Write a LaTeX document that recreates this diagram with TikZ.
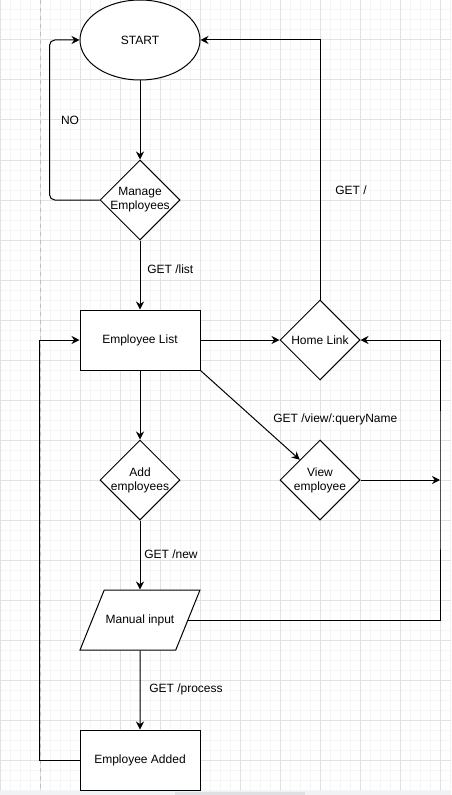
\documentclass[tikz,border=0pt]{standalone}
\usepackage{fontspec}
\setmainfont{Liberation Sans}
\usetikzlibrary{shapes.geometric,arrows.meta}

\definecolor{minorgray}{RGB}{245,245,245}
\definecolor{majorgray}{RGB}{226,226,226}
\definecolor{pagegray}{RGB}{190,190,190}
\definecolor{bandgray}{RGB}{241,242,244}
\definecolor{thumbgray}{RGB}{222,224,228}

\begin{document}
\begin{tikzpicture}[x=0.75pt,y=-0.75pt]
  % Base settings
  \tikzset{
    myline/.style={line width=0.75pt, -{Stealth[length=6pt,width=6pt]}},
    myshape/.style={draw, line width=0.75pt, fill=white, font=\fontsize{9}{10.5}\selectfont, align=center},
    mybox/.style={myshape, rectangle, minimum width=90pt, minimum height=45pt},
    myoval/.style={myshape, ellipse, minimum width=90pt, minimum height=60pt},
    mydiamond/.style={myshape, diamond, minimum width=60pt, minimum height=60pt, inner sep=0pt},
    myinput/.style={myshape, trapezium, trapezium left angle=68, trapezium right angle=112,
      trapezium stretches body, text height=6.5pt, text depth=2pt, inner xsep=0pt,
      inner ysep=18.25pt, minimum width=90pt},
    mylabel/.style={font=\fontsize{9}{10.5}\selectfont, align=center, inner sep=0pt},
    minorgrid/.style={line width=0.75pt, minorgray},
    majorgrid/.style={line width=0.75pt, majorgray}
  }

  % --- Canvas ---
  \useasboundingbox (0,0) rectangle (451,795);
  \fill[white] (0,0) rectangle (451,795);
  \foreach \x in {10,20,...,450} \draw[minorgrid] (\x,0) -- (\x,791);
  \foreach \y in {10,20,...,790} \draw[minorgrid] (0,\y) -- (451,\y);
  \foreach \x in {0,40,...,440} \draw[majorgrid] (\x,0) -- (\x,791);
  \foreach \y in {0,40,...,760} \draw[majorgrid] (0,\y) -- (451,\y);
  \draw[pagegray, line width=0.75pt, dash pattern=on 3pt off 3pt] (40,0) -- (40,791);
  \fill[bandgray] (0,791) rectangle (451,795);
  \fill[thumbgray] (175,792) rectangle (305,795);

  % --- Shapes ---
  \node[myoval] (start) at (140,40) {START};
  \node[mydiamond, label={[mylabel]center:Manage\\Employees}] (manage) at (140,200) {};
  \node[mybox] (list) at (140,340) {Employee List};
  \node[mydiamond, label={[mylabel]center:Home Link}] (home) at (320,340) {};
  \node[mydiamond, label={[mylabel]center:Add\\employees}] (add) at (140,480) {};
  \node[mydiamond, label={[mylabel]center:View\\employee}] (view) at (320,480) {};
  \node[myinput] (input) at (140,620) {Manual input};
  \node[mybox] (added) at (140,760) {Employee Added};
  \coordinate (rail) at (440,480);

  % --- Connectors ---
  \draw[myline] (start) -- (manage);
  \draw[myline, rounded corners=4pt] (manage.west) -- ++(-50,0) |- (start.west);
  \draw[myline] (manage) -- (list);
  \draw[myline] (list) -- (home);
  \draw[myline] (home.north) |- (start.east);
  \draw[myline] (list) -- (add);
  \draw[myline] (list.south east) -- (view.north west);
  \draw[myline] (view) -- (rail);
  \draw[myline] (input.east) -| (rail) |- (home.east);
  \draw[myline] (add) -- (input);
  \draw[myline] (input) -- (added);
  \draw[myline] (added.west) -- ++(-40,0) |- (list.west);

  % --- Labels ---
  \node[mylabel] (nolbl) at (70,120) {NO};
  \node[mylabel, anchor=west] (homelbl) at (335,190) {GET /};
  \node[mylabel, anchor=west] (listlbl) at (147,269) {GET /list};
  \node[mylabel, anchor=west] (viewlbl) at (273,419) {GET /view/:queryName};
  \node[mylabel, anchor=west] (newlbl) at (144,554) {GET /new};
  \node[mylabel, anchor=west] (proclbl) at (149,689) {GET /process};
\end{tikzpicture}
\end{document}
